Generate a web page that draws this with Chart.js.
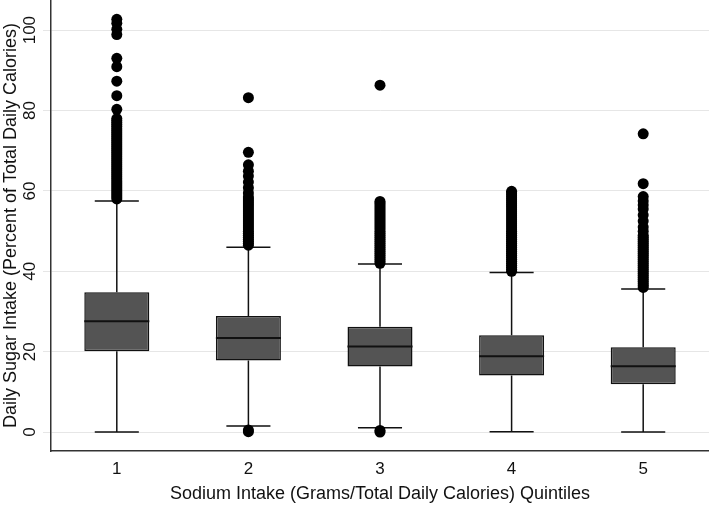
<!DOCTYPE html>
<html>
<head>
<meta charset="utf-8">
<script src="https://cdn.jsdelivr.net/npm/chart.js@4.4.1/dist/chart.umd.min.js"></script>
<style>
  html, body { margin: 0; padding: 0; background: #fff; }
  #wrap { width: 709px; height: 505px; }
</style>
</head>
<body>
<div id="wrap"><canvas id="box-chart" width="709" height="505"></canvas></div>
<script>
// Quintile categories and box statistics
const quintiles = ['1', '2', '3', '4', '5'];
const lowerWhisker = [0, 1.5, 1.1, 0.1, 0];
const q1 = [20.1, 17.8, 16.3, 14.1, 11.9];
const medians = [27.6, 23.4, 21.3, 18.9, 16.4];
const q3 = [34.8, 28.9, 26.2, 24.1, 21.1];
const upperWhisker = [57.5, 46.0, 41.8, 39.7, 35.6];
const yTicks = [0, 20, 40, 60, 80, 100];

// Outliers per quintile
const outliers1 = [58, 58.5, 59, 59.5, 60, 60.5, 61, 61.5, 62, 62.5, 63, 63.5, 64, 64.5, 65, 65.5,
  66, 66.5, 67, 67.5, 68, 68.5, 69, 69.5, 70, 70.5, 71, 71.5, 72, 72.5, 73, 73.5, 74, 74.5, 75,
  75.5, 76, 76.5, 77, 77.5, 78, 80.3, 83.7, 87.3, 90.9, 93.0, 98.9, 100.2, 101.7, 102.7];
const outliers2 = [0.1, 0.5, 46.5, 47, 47.5, 48, 48.5, 49, 49.5, 50, 50.5, 51, 51.5, 52, 52.5, 53,
  53.5, 54, 54.5, 55, 55.5, 56, 56.5, 57, 57.5, 58, 58.5, 59.5, 60.8, 62.2, 63.7, 64.9, 66.5, 69.6, 83.2];
const outliers3 = [0, 0.4, 42, 42.5, 43, 43.5, 44, 44.5, 45, 45.5, 46, 46.5, 47, 47.5, 48, 48.5, 49,
  49.5, 50, 50.5, 51, 51.5, 52, 52.5, 53, 53.5, 54, 54.5, 55, 55.5, 56, 56.5, 57, 57.4, 86.3];
const outliers4 = [40, 40.5, 41, 41.5, 42, 42.5, 43, 43.5, 44, 44.5, 45, 45.5, 46, 46.5, 47, 47.5,
  48, 48.5, 49, 49.5, 50, 50.5, 51, 51.5, 52, 52.5, 53, 53.5, 54, 54.5, 55, 55.5, 56, 56.5, 57,
  57.5, 58, 58.5, 59, 59.5, 59.9];
const outliers5 = [36, 36.5, 37, 37.5, 38, 38.5, 39, 39.5, 40, 40.5, 41, 41.5, 42, 42.5, 43, 43.5,
  44, 44.5, 45, 45.5, 46, 46.5, 47, 47.5, 48, 48.5, 49, 50, 51, 52.5, 54, 55.5, 56.5, 57.5, 58.6,
  61.8, 74.2];

const FONT = "'Liberation Sans', Arial, Helvetica, sans-serif";
const INK = '#111';

const outlierPoints = [];
[outliers1, outliers2, outliers3, outliers4, outliers5].forEach((list, i) => {
  list.forEach(v => outlierPoints.push({ x: quintiles[i], y: v }));
});

// Whiskers, caps, medians and rotated y tick labels
const boxPlotPlugin = {
  id: 'boxPlotParts',
  beforeDatasetsDraw(chart) {
    const ctx = chart.ctx;
    const x = chart.scales.x;
    const y = chart.scales.y;
    const capHalf = (x.width / quintiles.length) * 0.335 / 2;
    ctx.save();
    ctx.strokeStyle = INK;
    ctx.lineWidth = 1.5;
    quintiles.forEach((q, i) => {
      const cx = x.getPixelForValue(i);
      const lo = y.getPixelForValue(lowerWhisker[i]);
      const hi = y.getPixelForValue(upperWhisker[i]);
      ctx.beginPath();
      ctx.moveTo(cx, lo);
      ctx.lineTo(cx, y.getPixelForValue(q1[i]));
      ctx.moveTo(cx, y.getPixelForValue(q3[i]));
      ctx.lineTo(cx, hi);
      ctx.moveTo(cx - capHalf, lo);
      ctx.lineTo(cx + capHalf, lo);
      ctx.moveTo(cx - capHalf, hi);
      ctx.lineTo(cx + capHalf, hi);
      ctx.stroke();
    });
    ctx.restore();
  },
  afterDatasetsDraw(chart) {
    const ctx = chart.ctx;
    const x = chart.scales.x;
    const y = chart.scales.y;
    const half = (x.width / quintiles.length) * 0.494 / 2;
    ctx.save();
    ctx.strokeStyle = INK;
    ctx.lineWidth = 2;
    quintiles.forEach((q, i) => {
      const cx = x.getPixelForValue(i);
      const my = y.getPixelForValue(medians[i]);
      ctx.beginPath();
      ctx.moveTo(cx - half, my);
      ctx.lineTo(cx + half, my);
      ctx.stroke();
    });
    ctx.restore();
  },
  afterDraw(chart) {
    const ctx = chart.ctx;
    const y = chart.scales.y;
    ctx.save();
    ctx.fillStyle = INK;
    ctx.font = '17px ' + FONT;
    ctx.textAlign = 'center';
    ctx.textBaseline = 'middle';
    yTicks.forEach(v => {
      ctx.save();
      ctx.translate(30, y.getPixelForValue(v));
      ctx.rotate(-Math.PI / 2);
      ctx.fillText(String(v), 0, 0);
      ctx.restore();
    });
    ctx.restore();
  }
};

const ctx = document.getElementById('box-chart').getContext('2d');
const chart = new Chart(ctx, {
  type: 'bar',
  data: {
    labels: quintiles,
    datasets: [
      {
        type: 'line',
        label: 'Outliers',
        data: outlierPoints,
        showLine: false,
        pointRadius: 5.5,
        pointHoverRadius: 5.5,
        pointBackgroundColor: '#000',
        pointBorderWidth: 0,
        order: 1
      },
      {
        label: 'IQR',
        data: quintiles.map((q, i) => [q1[i], q3[i]]),
        backgroundColor: '#545454',
        borderColor: INK,
        borderWidth: 1.5,
        borderSkipped: false,
        barPercentage: 0.494,
        categoryPercentage: 1,
        order: 2
      }
    ]
  },
  options: {
    responsive: false,
    animation: false,
    layout: { padding: 0, autoPadding: false },
    plugins: {
      legend: { display: false },
      tooltip: { enabled: false }
    },
    scales: {
      x: {
        type: 'category',
        offset: true,
        grid: { display: false, drawTicks: false },
        border: { color: '#333', width: 1.5 },
        ticks: { color: INK, font: { family: FONT, size: 17 }, padding: 8 },
        title: {
          display: true,
          text: 'Sodium Intake (Grams/Total Daily Calories) Quintiles',
          color: INK,
          font: { family: FONT, size: 18 },
          padding: 0
        },
        afterFit: function (scale) { scale.height = 54; }
      },
      y: {
        min: -4.7,
        max: 107.5,
        afterBuildTicks: function (scale) {
          scale.ticks = yTicks.map(v => ({ value: v }));
        },
        grid: { color: '#e6e6e6', lineWidth: 1, tickLength: 8, tickColor: '#e6e6e6' },
        border: { color: '#333', width: 1.5 },
        ticks: { display: false },
        title: {
          display: true,
          text: 'Daily Sugar Intake (Percent of Total Daily Calories)',
          color: INK,
          font: { family: FONT, size: 18 },
          padding: 0
        },
        afterFit: function (scale) { scale.width = 51; }
      }
    }
  },
  plugins: [boxPlotPlugin]
});
</script>
</body>
</html>
